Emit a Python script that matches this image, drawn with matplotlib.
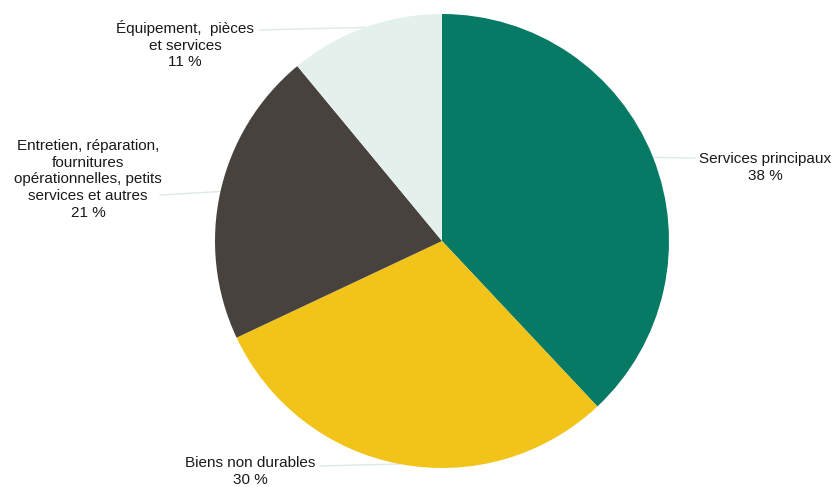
import numpy as np
import matplotlib
matplotlib.use("Agg")
import matplotlib.pyplot as plt

categories = ["Services principaux", "Biens non durables",
              "Entretien, réparation,\nfournitures\nopérationnelles, petits\nservices et autres",
              "Équipement,  pièces\net services"]
values = [38, 30, 21, 11]
colors = ["#067A64", "#F2C419", "#48423E", "#E3F0EC"]

plt.rcParams['font.family'] = ['Liberation Sans', 'DejaVu Sans']

W, H = 835, 487
fig = plt.figure(figsize=(W / 100, H / 100), dpi=100)
ax = fig.add_axes([0, 0, 1, 1])

cx, cy, r = 442, H - 241, 227
ax.pie(values, colors=colors, startangle=90, counterclock=False,
       center=(cx, cy), radius=r, frame=True,
       wedgeprops=dict(linewidth=0))
ax.set_xlim(0, W)
ax.set_ylim(0, H)
ax.set_aspect('equal')
ax.axis('off')

# label layout: (text center x, text top y in pixels, leader end x, leader end y pixel)
layout = [
    (765, 152, 695, 158),
    (250, 456, 320, 466),
    (88, 139, 160, 195),
    (185, 20, 260, 30),
]

total = sum(values)
cum = 0
for cat, v, (tx, ty, lx, ly) in zip(categories, values, layout):
    mid = 90 - (cum + v / 2) / total * 360
    cum += v
    ex = cx + r * np.cos(np.radians(mid))
    ey = cy + r * np.sin(np.radians(mid))
    ax.plot([ex, lx], [ey, H - ly], color="#dde9e5", lw=1, zorder=0)
    ax.text(tx, H - ty, f"{cat}\n{v} %", ha="center", va="top",
            fontsize=11, color="#1a1a1a", linespacing=1.25)

fig.savefig("out.png", dpi=100)
